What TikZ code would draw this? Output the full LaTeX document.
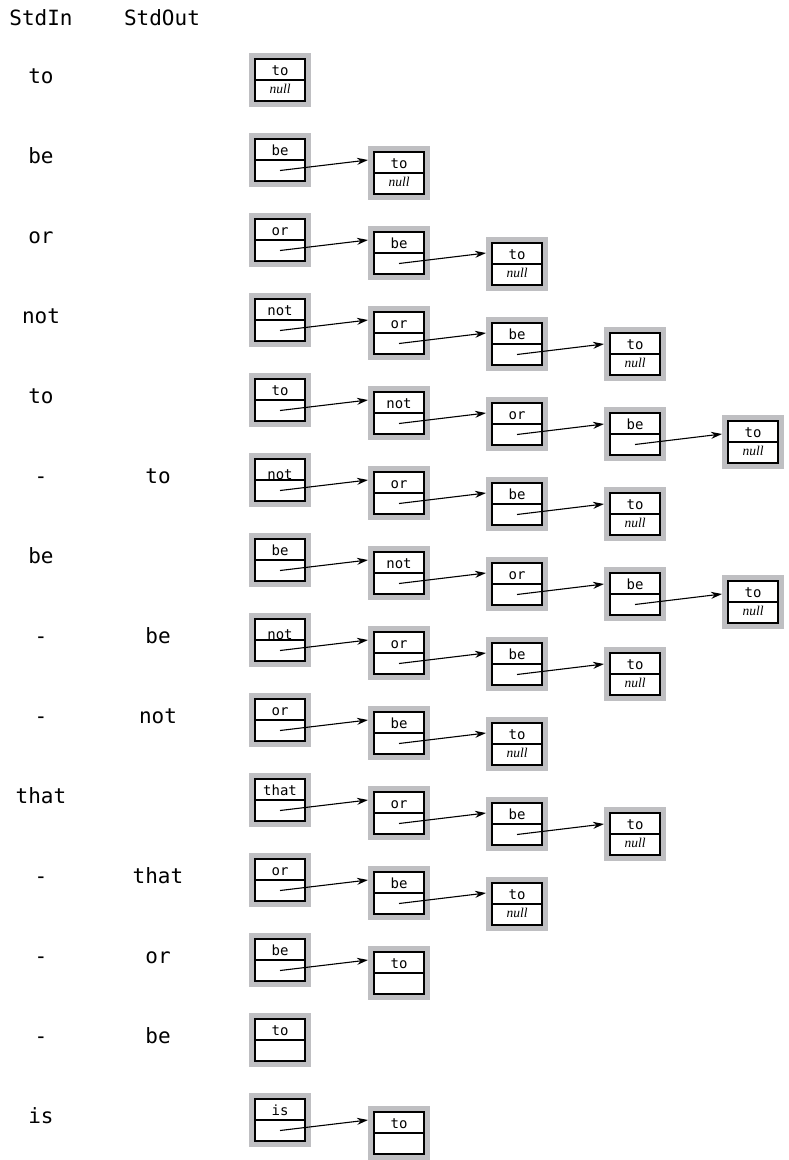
\documentclass[tikz,border=0pt]{standalone}
\usepackage{fontspec}
\setmonofont{DejaVu Sans Mono}
\newfontfamily\linkfont{Liberation Serif}
\usetikzlibrary{calc, arrows.meta}
\definecolor{boxgray}{RGB}{191,191,194}

\tikzset{
  listnode/.style={fill=boxgray, minimum width=62pt, minimum height=54pt,
    inner sep=0pt, outer sep=0pt},
  cellbox/.style={draw=black, fill=white, line width=1.6pt},
  celldiv/.style={draw=black, line width=1.2pt},
  item/.style={font=\fontsize{14}{16}\selectfont\ttfamily, inner sep=0pt, anchor=base},
  nulltext/.style={font=\fontsize{13.5}{15}\selectfont\linkfont\itshape,
    inner sep=0pt, anchor=base},
  link/.style={-{Stealth[length=11pt,width=7pt]}, line width=1.1pt},
  stream/.style={font=\fontsize{21}{24}\selectfont\ttfamily, inner sep=0pt, anchor=base}
}

% one row of the stack: #1 shift of first item, #2 row, #3 items, #4 last link
\newcommand{\chain}[4][0]{%
  \foreach \w [count=\c] in {#3} {
    \pgfmathsetmacro\nx{{249,368,486,604,722}[\c-1]+31}
    \pgfmathsetmacro\ny{53+80*(#2-1)+{0,13,24,34,42}[\c-1]+27}
    \pgfmathtruncatemacro\p{\c-1}
    \ifnum\c=1 \def\tshift{#1}\else\def\tshift{0}\fi
    \node[listnode] (r#2c\c) at (\nx,\ny) {};
    \draw[cellbox] ($(r#2c\c.north west)+(6,6)$) rectangle ($(r#2c\c.south east)-(6,6)$);
    \draw[celldiv] ($(r#2c\c.west)+(6,0)$) -- ($(r#2c\c.east)-(6,0)$);
    \node[item, yshift=\tshift pt] (r#2t\c) at ($(r#2c\c.center)+(0,-5)$) {\w};
    \ifnum\c>1
      \draw[link] ($(r#2c\p.center)+(0,10.5)$) -- (r#2c\p.center -| r#2c\c.west);
    \fi
    \xdef\lastc{\c}
  }
  \node[nulltext] (r#2null) at ($(r#2c\lastc.center)+(0,13)$) {#4};
}

\begin{document}
\begin{tikzpicture}[x=1pt, y=-1pt]
  \useasboundingbox (0,0) rectangle (788,1160);

  \node[stream] (stdin) at (41,25) {StdIn};
  \node[stream] (stdout) at (162,25) {StdOut};

  \foreach \s [count=\r] in {to,be,or,not,to,-,be,-,-,that,-,-,-,is}
    \node[stream] (in\r) at (41,{80*\r+3}) {\s};
  \foreach \r/\o in {6/to,8/be,9/not,11/that,12/or,13/be}
    \node[stream] (out\r) at (158,{80*\r+3}) {\o};

  \chain{1}{to}{null}
  \chain{2}{be,to}{null}
  \chain{3}{or,be,to}{null}
  \chain{4}{not,or,be,to}{null}
  \chain{5}{to,not,or,be,to}{null}
  \chain[-4]{6}{not,or,be,to}{null}
  \chain{7}{be,not,or,be,to}{null}
  \chain[-4]{8}{not,or,be,to}{null}
  \chain{9}{or,be,to}{null}
  \chain{10}{that,or,be,to}{null}
  \chain{11}{or,be,to}{null}
  \chain{12}{be,to}{}
  \chain{13}{to}{}
  \chain{14}{is,to}{}
\end{tikzpicture}
\end{document}
